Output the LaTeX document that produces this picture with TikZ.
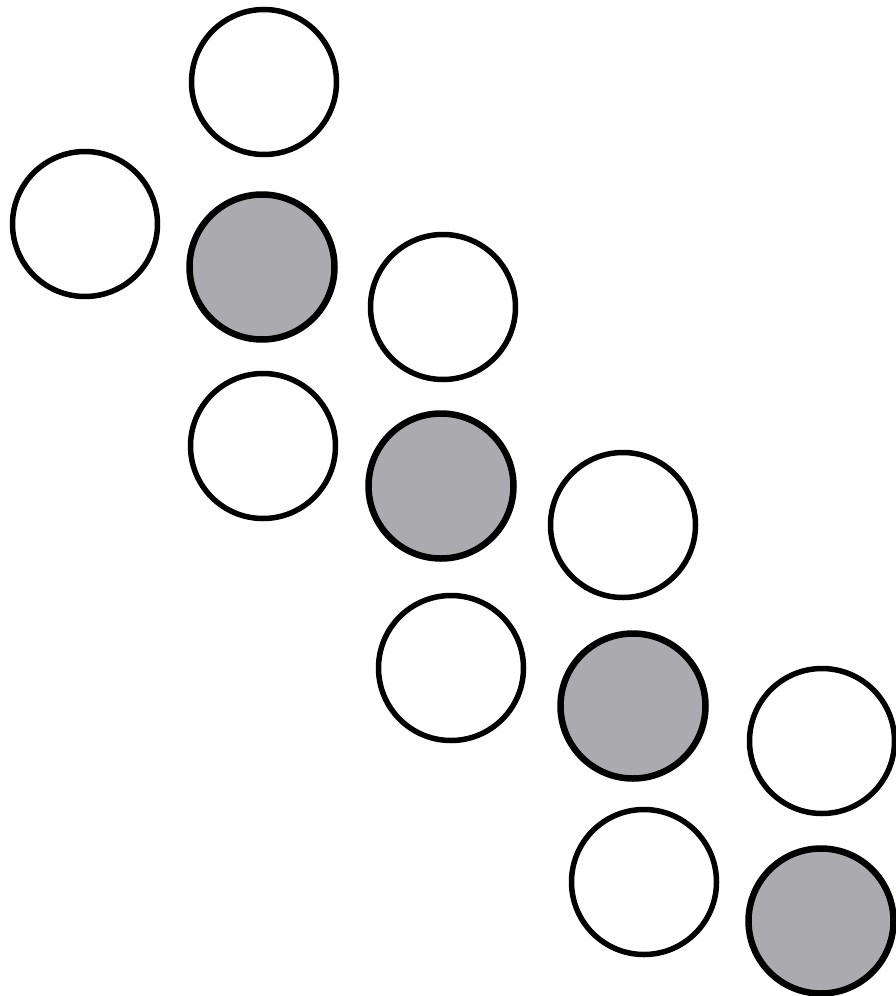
\documentclass[tikz,border=0pt]{standalone}
\begin{document}
\begin{tikzpicture}[x=1pt,y=-1pt,
  ball/.style={circle,draw=black,line width=5.5pt,minimum size=145pt,inner sep=0pt},
  openball/.style={ball,fill=white},
  fullball/.style={ball,fill=shade,line width=6.5pt},
]
\definecolor{shade}{RGB}{171,170,174}
\useasboundingbox[fill=white] (0,0) rectangle (896,996);
\node[openball] (a1) at (264,82) {};
\node[openball] (a2) at (85,224) {};
\node[fullball] (b1) at (262,267) {};
\node[openball] (a3) at (443,307) {};
\node[openball] (a4) at (263,446) {};
\node[fullball] (b2) at (441,486) {};
\node[openball] (a5) at (623,525) {};
\node[openball] (a6) at (451,668) {};
\node[fullball] (b3) at (633,706) {};
\node[openball] (a7) at (822,741) {};
\node[openball] (a8) at (644,882) {};
\node[fullball] (b4) at (821,921) {};
\end{tikzpicture}
\end{document}
